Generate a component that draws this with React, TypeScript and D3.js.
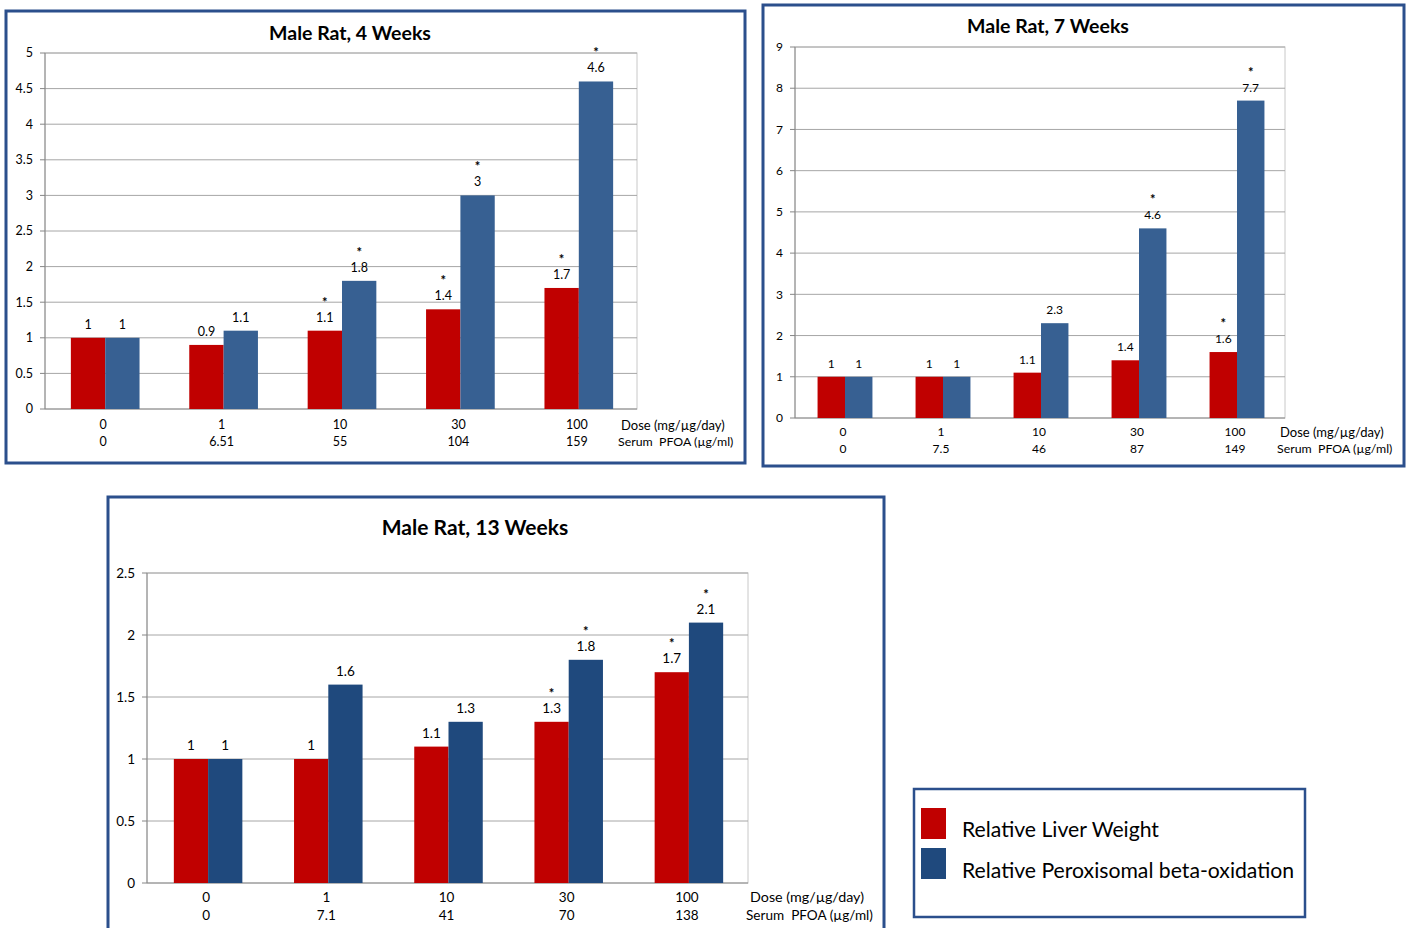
import React from "react";
import * as d3 from "d3";

const doses = ["0", "1", "10", "30", "100"];

const serum4 = ["0", "6.51", "55", "104", "159"];
const liver4 = [1, 0.9, 1.1, 1.4, 1.7];
const perox4 = [1, 1.1, 1.8, 3, 4.6];
const liverSig4 = [false, false, true, true, true];
const peroxSig4 = [false, false, true, true, true];
const ticks4 = [0, 0.5, 1, 1.5, 2, 2.5, 3, 3.5, 4, 4.5, 5];

const serum7 = ["0", "7.5", "46", "87", "149"];
const liver7 = [1, 1, 1.1, 1.4, 1.6];
const perox7 = [1, 1, 2.3, 4.6, 7.7];
const liverSig7 = [false, false, false, false, true];
const peroxSig7 = [false, false, false, true, true];
const ticks7 = [0, 1, 2, 3, 4, 5, 6, 7, 8, 9];

const serum13 = ["0", "7.1", "41", "70", "138"];
const liver13 = [1, 1, 1.1, 1.3, 1.7];
const perox13 = [1, 1.6, 1.3, 1.8, 2.1];
const liverSig13 = [false, false, false, true, true];
const peroxSig13 = [false, false, false, true, true];
const ticks13 = [0, 0.5, 1, 1.5, 2, 2.5];

const legendLabels = ["Relative Liver Weight", "Relative Peroxisomal beta-oxidation"];

const RED = "#C00000";
const BORDER = "#2B4F8C";
const FONT = "Lato, 'Open Sans', sans-serif";

type PanelProps = {
  box: [number, number, number, number];
  title: string;
  titleX: number;
  titleY: number;
  titleFs: number;
  plot: { l: number; t: number; r: number; b: number };
  serum: string[];
  liver: number[];
  perox: number[];
  liverSig: boolean[];
  peroxSig: boolean[];
  ticks: number[];
  barFrac: number;
  blue: string;
  fs: number;
  labFs: number;
  doseY: number;
  serumY: number;
  doseLabelX: number;
  serumLabelX: number;
};

function Panel(p: PanelProps) {
  const { l, t, r, b } = p.plot;
  const x = d3.scaleBand<string>().domain(doses).range([l + 1, r + 1]).padding(0);
  const y = d3.scaleLinear().domain([0, p.ticks[p.ticks.length - 1]]).range([b, t]);
  const bw = x.step() * p.barFrac;
  const [bx, by, bwid, bht] = p.box;
  return (
    <g>
      <rect x={bx} y={by} width={bwid} height={bht} fill="#fff" stroke={BORDER} strokeWidth={3} />
      <text x={p.titleX} y={p.titleY} textAnchor="middle" fontFamily={FONT} fontWeight="bold" fontSize={p.titleFs} fill="#000">
        {p.title}
      </text>
      <rect x={l} y={t} width={r - l} height={b - t} fill="none" stroke="#C8C8C8" strokeWidth={1} />
      {p.ticks.map((v) => (
        <g key={v}>
          {v > 0 && <line x1={l} x2={r} y1={y(v)} y2={y(v)} stroke="#A6A6A6" strokeWidth={1} />}
          <line x1={l - 5} x2={l} y1={y(v)} y2={y(v)} stroke="#868686" />
          <text x={l - 12} y={y(v)} dy="0.35em" textAnchor="end" fontFamily={FONT} fontSize={p.fs} fill="#000">
            {String(v)}
          </text>
        </g>
      ))}
      <line x1={l} x2={l} y1={t} y2={b} stroke="#868686" />
      <line x1={l} x2={r} y1={b} y2={b} stroke="#868686" />
      {doses.map((d, i) => {
        const c = (x(d) as number) + x.step() / 2;
        const lv = p.liver[i];
        const pv = p.perox[i];
        return (
          <g key={d}>
            <rect x={c - bw} y={y(lv)} width={bw} height={b - y(lv)} fill={RED} />
            <rect x={c} y={y(pv)} width={bw} height={b - y(pv)} fill={p.blue} />
            <text x={c - bw / 2} y={y(lv) - 9} textAnchor="middle" fontFamily={FONT} fontSize={p.fs} fill="#000">
              {String(lv)}
            </text>
            <text x={c + bw / 2} y={y(pv) - 9} textAnchor="middle" fontFamily={FONT} fontSize={p.fs} fill="#000">
              {String(pv)}
            </text>
            {p.liverSig[i] && (
              <text x={c - bw / 2} y={y(lv) - 24} textAnchor="middle" fontFamily={FONT} fontSize={13} fontWeight="bold" fill="#000">
                *
              </text>
            )}
            {p.peroxSig[i] && (
              <text x={c + bw / 2} y={y(pv) - 24} textAnchor="middle" fontFamily={FONT} fontSize={13} fontWeight="bold" fill="#000">
                *
              </text>
            )}
            <text x={c - 2} y={p.doseY} dy="0.35em" textAnchor="middle" fontFamily={FONT} fontSize={p.fs} fill="#000">
              {d}
            </text>
            <text x={c - 2} y={p.serumY} dy="0.35em" textAnchor="middle" fontFamily={FONT} fontSize={p.fs} fill="#000">
              {p.serum[i]}
            </text>
          </g>
        );
      })}
      <text x={p.doseLabelX} y={p.doseY} dy="0.35em" fontFamily={FONT} fontSize={p.labFs} fill="#000">
        Dose (mg/µg/day)
      </text>
      <text x={p.serumLabelX} y={p.serumY} dy="0.35em" fontFamily={FONT} fontSize={p.labFs * 0.95} fill="#000" xmlSpace="preserve">
        Serum  PFOA (µg/ml)
      </text>
    </g>
  );
}

export default function App() {
  return (
    <svg width={1407} height={928} style={{ position: "absolute", left: 0, top: 0, background: "#fff" }}>
      <Panel
        box={[6, 11, 739, 452]}
        title="Male Rat, 4 Weeks"
        titleX={350}
        titleY={40}
        titleFs={19.5}
        plot={{ l: 45, t: 53, r: 637, b: 409 }}
        serum={serum4}
        liver={liver4}
        perox={perox4}
        liverSig={liverSig4}
        peroxSig={peroxSig4}
        ticks={ticks4}
        barFrac={0.29}
        blue="#376092"
        fs={12.5}
        labFs={13}
        doseY={425}
        serumY={442}
        doseLabelX={621}
        serumLabelX={618}
      />
      <Panel
        box={[763, 5, 641, 461]}
        title="Male Rat, 7 Weeks"
        titleX={1048}
        titleY={33}
        titleFs={19.5}
        plot={{ l: 795, t: 47, r: 1285, b: 418 }}
        serum={serum7}
        liver={liver7}
        perox={perox7}
        liverSig={liverSig7}
        peroxSig={peroxSig7}
        ticks={ticks7}
        barFrac={0.28}
        blue="#376092"
        fs={12}
        labFs={13}
        doseY={432}
        serumY={449}
        doseLabelX={1280}
        serumLabelX={1277}
      />
      <Panel
        box={[108, 497, 776, 450]}
        title="Male Rat, 13 Weeks"
        titleX={475}
        titleY={535}
        titleFs={21}
        plot={{ l: 147, t: 573, r: 748, b: 883 }}
        serum={serum13}
        liver={liver13}
        perox={perox13}
        liverSig={liverSig13}
        peroxSig={peroxSig13}
        ticks={ticks13}
        barFrac={0.285}
        blue="#1F497D"
        fs={13.5}
        labFs={14.3}
        doseY={897}
        serumY={915}
        doseLabelX={750}
        serumLabelX={746}
      />
      <g>
        <rect x={914} y={789} width={391} height={128} fill="#fff" stroke={BORDER} strokeWidth={2.5} />
        <rect x={921} y={808} width={25} height={31} fill={RED} />
        <rect x={921} y={848} width={25} height={31} fill="#1F497D" />
        <text x={962} y={830} dy="0.35em" fontFamily={FONT} fontSize={21.2} fill="#000">
          {legendLabels[0]}
        </text>
        <text x={962} y={871} dy="0.35em" fontFamily={FONT} fontSize={21.2} fill="#000">
          {legendLabels[1]}
        </text>
      </g>
    </svg>
  );
}
